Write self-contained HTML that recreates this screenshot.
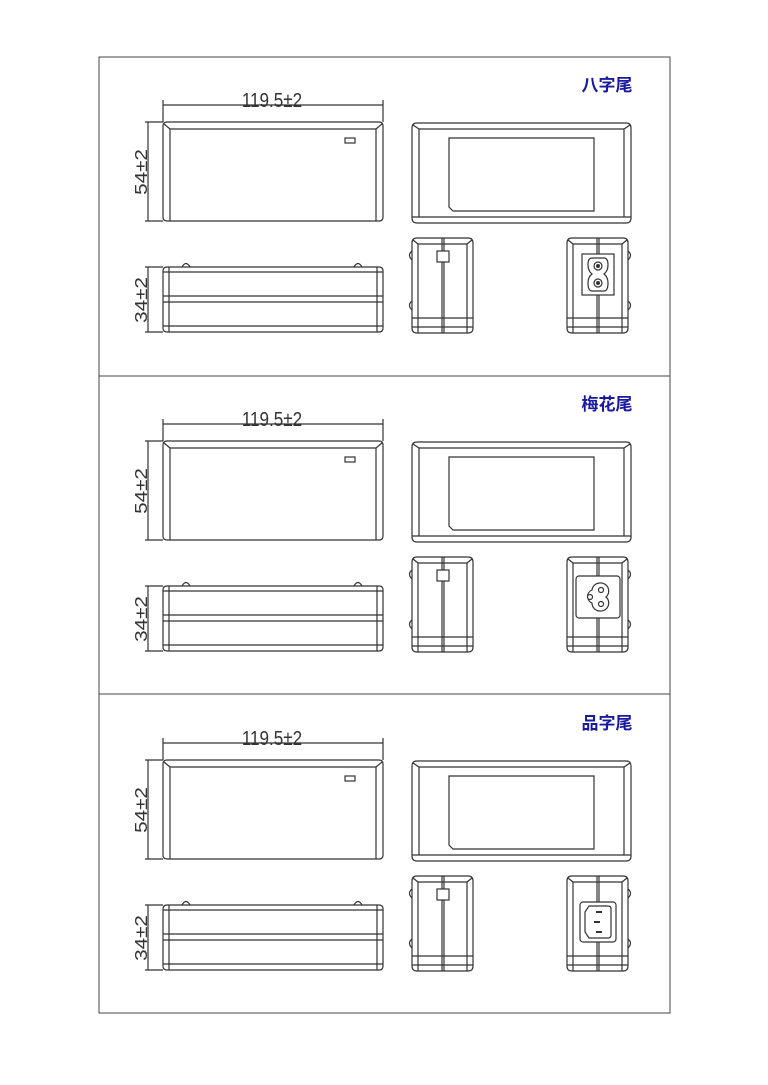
<!DOCTYPE html>
<html><head><meta charset="utf-8"><style>
html,body{margin:0;padding:0;background:#fff;}
svg{display:block;}
text{font-family:"Liberation Sans","Noto Sans CJK SC",sans-serif;}
</style></head><body>
<svg width="768" height="1085" viewBox="0 0 768 1085" xmlns="http://www.w3.org/2000/svg">
<defs>
<g id="base" fill="none" stroke="#333" stroke-width="1.2">
  <line x1="163" y1="105" x2="383" y2="105"/>
  <line x1="163" y1="100" x2="163" y2="122"/>
  <line x1="383" y1="100" x2="383" y2="122"/>
  <path d="M167 122 H379 Q383 122 383 126 V217 Q383 221 379 221 H167 Q163 221 163 217 V126 Q163 122 167 122 Z"/>
  <line x1="170" y1="129" x2="376" y2="129"/>
  <line x1="170" y1="129" x2="170" y2="221"/>
  <line x1="376" y1="129" x2="376" y2="221"/>
  <line x1="164" y1="124" x2="170" y2="129"/>
  <line x1="382" y1="124" x2="376" y2="129"/>
  <rect x="345" y="138" width="10" height="5"/>
  <line x1="148" y1="122" x2="148" y2="221"/>
  <line x1="145" y1="122" x2="163" y2="122"/>
  <line x1="145" y1="221" x2="163" y2="221"/>
  <path d="M167 267 H379 Q383 267 383 271 V328 Q383 332 379 332 H167 Q163 332 163 328 V271 Q163 267 167 267 Z"/>
  <line x1="163" y1="272" x2="383" y2="272"/>
  <line x1="163" y1="296" x2="383" y2="296"/>
  <line x1="163" y1="302" x2="383" y2="302"/>
  <line x1="163" y1="326" x2="383" y2="326"/>
  <line x1="169" y1="267" x2="169" y2="332"/>
  <line x1="377" y1="267" x2="377" y2="332"/>
  <path d="M182 267 Q186 260 190 267"/>
  <path d="M354 267 Q358 260 362 267"/>
  <line x1="148" y1="267" x2="148" y2="332"/>
  <line x1="145" y1="267" x2="163" y2="267"/>
  <line x1="145" y1="332" x2="163" y2="332"/>
  <path d="M417 123 H626 Q631 123 631 128 V218 Q631 223 626 223 H417 Q412 223 412 218 V128 Q412 123 417 123 Z"/>
  <line x1="419" y1="129" x2="624" y2="129"/>
  <line x1="419" y1="129" x2="419" y2="217"/>
  <line x1="624" y1="129" x2="624" y2="217"/>
  <line x1="412" y1="217" x2="631" y2="217"/>
  <line x1="413" y1="125" x2="419" y2="129"/>
  <line x1="630" y1="125" x2="624" y2="129"/>
  <path d="M449 138 H594 V211 H453 L449 207 Z"/>
  <path d="M417 238 H468 Q473 238 473 243 V328 Q473 333 468 333 H417 Q412 333 412 328 V243 Q412 238 417 238 Z"/>
  <line x1="418" y1="244" x2="467" y2="244"/>
  <line x1="418" y1="244" x2="418" y2="333"/>
  <line x1="467" y1="244" x2="467" y2="333"/>
  <line x1="412" y1="318" x2="473" y2="318"/>
  <line x1="412" y1="327" x2="473" y2="327"/>
  <line x1="413" y1="240" x2="418" y2="244"/>
  <line x1="472" y1="240" x2="467" y2="244"/>
  <line x1="442" y1="238" x2="442" y2="333"/>
  <line x1="444" y1="238" x2="444" y2="333"/>
  <rect x="437" y="251" width="12" height="11" fill="#fff"/>
  <path d="M412 251 Q407 255 412 260"/>
  <path d="M412 301 Q407 305 412 310"/>
  <path d="M572 238 H623 Q628 238 628 243 V328 Q628 333 623 333 H572 Q567 333 567 328 V243 Q567 238 572 238 Z"/>
  <line x1="573" y1="244" x2="622" y2="244"/>
  <line x1="573" y1="244" x2="573" y2="333"/>
  <line x1="622" y1="244" x2="622" y2="333"/>
  <line x1="567" y1="318" x2="628" y2="318"/>
  <line x1="567" y1="327" x2="628" y2="327"/>
  <line x1="568" y1="240" x2="573" y2="244"/>
  <line x1="627" y1="240" x2="622" y2="244"/>
  <line x1="597" y1="238" x2="597" y2="333"/>
  <line x1="599" y1="238" x2="599" y2="333"/>
  <path d="M628 251 Q633 255 628 260"/>
  <path d="M628 301 Q633 305 628 310"/>
</g>
<g id="labels" fill="#333">
  <text transform="translate(272 107) scale(0.95 1.15)" font-size="18" text-anchor="middle">119.5±2</text>
  <text transform="translate(147 172) rotate(-90) scale(1.15 0.95)" font-size="18" text-anchor="middle">54±2</text>
  <text transform="translate(147 300) rotate(-90) scale(1.15 0.95)" font-size="18" text-anchor="middle">34±2</text>
</g>
</defs>

<rect x="99" y="57" width="571" height="956" fill="none" stroke="#444" stroke-width="1"/>
<line x1="99" y1="376" x2="670" y2="376" stroke="#444" stroke-width="1"/>
<line x1="99" y1="694" x2="670" y2="694" stroke="#444" stroke-width="1"/>

<g>
  <use href="#base"/><use href="#labels"/>
  <text x="607" y="91" font-size="17" font-weight="bold" text-anchor="middle" fill="#1a1aa0">八字尾</text>
  <g fill="#fff" stroke="#333" stroke-width="1.2">
    <rect x="582" y="254" width="32" height="41"/>
    <path d="M592 258 H604 Q608 258 608 265 Q608 271 604 274 Q608 277 608 283 Q608 291 604 291 H592 Q588 291 588 283 Q588 277 592 274 Q588 271 588 265 Q588 258 592 258 Z"/>
    <circle cx="598" cy="266" r="4"/><circle cx="598" cy="283" r="4"/>
  </g>
  <circle cx="598" cy="266" r="2" fill="#333"/><circle cx="598" cy="283" r="2" fill="#333"/>
</g>

<g transform="translate(0 319)">
  <use href="#base"/><use href="#labels"/>
  <text x="607" y="91" font-size="17" font-weight="bold" text-anchor="middle" fill="#1a1aa0">梅花尾</text>
  <g fill="#fff" stroke="#333" stroke-width="1.2">
    <rect x="576" y="257" width="44" height="42" rx="3"/>
    <path d="M600 264 A8 8 0 0 1 606 278 A8 8 0 0 1 600 292 A8 8 0 0 1 592 284 A7 7 0 0 1 592 271 A8 8 0 0 1 600 264 Z"/>
    <circle cx="601" cy="271" r="2.5"/><circle cx="601" cy="285" r="2.5"/><circle cx="590" cy="278" r="2.5"/>
  </g>
</g>

<g transform="translate(0 638)">
  <use href="#base"/><use href="#labels"/>
  <text x="607" y="91" font-size="17" font-weight="bold" text-anchor="middle" fill="#1a1aa0">品字尾</text>
  <g fill="#fff" stroke="#333" stroke-width="1.2">
    <rect x="580" y="264" width="36" height="40" rx="3"/>
    <path d="M589 268 H608 Q611 268 611 271 V297 Q611 300 608 300 H589 L585 294 V274 Z"/>
  </g>
  <g fill="#333">
    <rect x="596" y="273" width="6" height="2"/>
    <rect x="594" y="283" width="6" height="2"/>
    <rect x="596" y="293" width="6" height="2"/>
  </g>
</g>
</svg>
</body></html>
